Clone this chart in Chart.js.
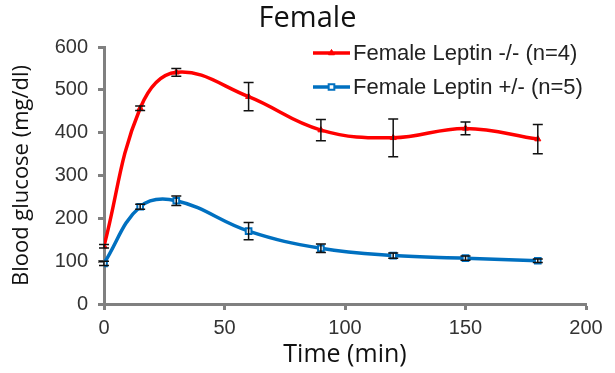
<!DOCTYPE html>
<html>
<head>
<meta charset="utf-8">
<script src="https://cdn.jsdelivr.net/npm/chart.js@4.4.1/dist/chart.umd.min.js"></script>
<style>
  html, body { margin: 0; padding: 0; background: #fff; }
  #wrap { width: 615px; height: 373px; }
</style>
</head>
<body>
<div id="wrap"><canvas id="grafico" width="615" height="373"></canvas></div>
<script>
// tiempos (min) y glucosa (mg/dl)
var tiempos = [0, 15, 30, 60, 90, 120, 150, 180];
var leptinKO = [135, 457, 541, 484, 406, 388, 410, 385];
var leptinKOErr = [4, 5, 9, 33, 25, 44, 15, 34];
var leptinHet = [95, 227, 241, 170, 130, 113, 107, 101];
var leptinHetErr = [5, 6, 11, 20, 10, 6, 5, 4];
var etiquetas = ["Female Leptin -/- (n=4)", "Female Leptin +/- (n=5)"];
var errores = [leptinKOErr, leptinHetErr];

var gris = "#808080";
var fuenteTexto = "'Open Sans', 'Noto Sans', sans-serif";
var fuenteNum = "'Liberation Sans', Arial, sans-serif";

function puntos(ys){
    return tiempos.map(function(t, i){ return {x: t, y: ys[i]}; });
}

// barras de error encima de las lineas
var pluginErrores = {
    id: "errores",
    afterDatasetsDraw: function(chart){
        var ctx = chart.ctx;
        var ys = chart.scales.y;
        ctx.save();
        ctx.strokeStyle = "#111";
        ctx.lineWidth = 1.5;
        chart.data.datasets.forEach(function(ds, d){
            var meta = chart.getDatasetMeta(d);
            meta.data.forEach(function(p, i){
                var v = ds.data[i].y, e = errores[d][i];
                var top = ys.getPixelForValue(v + e);
                var bot = ys.getPixelForValue(v - e);
                ctx.beginPath();
                ctx.moveTo(p.x, top); ctx.lineTo(p.x, bot);
                ctx.moveTo(p.x - 5, top); ctx.lineTo(p.x + 5, top);
                ctx.moveTo(p.x - 5, bot); ctx.lineTo(p.x + 5, bot);
                ctx.stroke();
            });
        });
        ctx.restore();
    }
};

// leyenda dentro del area del grafico
var pluginLeyenda = {
    id: "leyendaInterna",
    afterDraw: function(chart){
        var ctx = chart.ctx;
        var x0 = 313, x1 = 350, filas = [53, 87];
        ctx.save();
        chart.data.datasets.forEach(function(ds, d){
            var y = filas[d];
            ctx.strokeStyle = ds.borderColor;
            ctx.lineWidth = 3.5;
            ctx.beginPath(); ctx.moveTo(x0, y); ctx.lineTo(x1, y); ctx.stroke();
            var cx = (x0 + x1) / 2;
            ctx.fillStyle = ds.pointBackgroundColor;
            ctx.strokeStyle = ds.borderColor;
            ctx.lineWidth = ds.pointBorderWidth;
            Chart.helpers.drawPoint(ctx, {
                pointStyle: ds.pointStyle, radius: ds.pointRadius, borderWidth: ds.pointBorderWidth
            }, cx, y);
            ctx.fillStyle = "#222";
            ctx.font = "22px " + fuenteNum;
            ctx.textBaseline = "middle";
            ctx.textAlign = "left";
            ctx.fillText(ds.label, x1 + 3, y + 1);
        });
        ctx.restore();
    }
};

var config = {
    type: "line",
    data: {
        datasets: [{
            label: etiquetas[0],
            data: puntos(leptinKO),
            borderColor: "#ff0000",
            backgroundColor: "#ff0000",
            borderWidth: 3.5,
            tension: 0.4,
            pointStyle: "triangle",
            pointRadius: 3.5,
            pointBorderWidth: 1,
            pointBackgroundColor: "#ff0000",
            pointBorderColor: "#ff0000"
        }, {
            label: etiquetas[1],
            data: puntos(leptinHet),
            borderColor: "#0070c0",
            backgroundColor: "#ffffff",
            borderWidth: 3.5,
            tension: 0.4,
            pointStyle: "rect",
            pointRadius: 4,
            pointBorderWidth: 2,
            pointBackgroundColor: "#ffffff",
            pointBorderColor: "#0070c0"
        }]
    },
    options: {
        responsive: false,
        animation: false,
        layout: { padding: { top: 0, left: 0, right: 0, bottom: 0 } },
        plugins: {
            legend: { display: false },
            tooltip: { enabled: false },
            title: {
                display: true,
                text: "Female",
                color: "#111",
                font: { family: fuenteTexto, size: 29, weight: "normal" },
                padding: { top: 1, bottom: 11.2 }
            }
        },
        scales: {
            x: {
                type: "linear",
                min: 0, max: 200,
                ticks: { stepSize: 50, color: "#333", padding: 6, font: { family: fuenteNum, size: 20 } },
                grid: { drawOnChartArea: false, drawTicks: true, tickLength: 6, tickColor: gris, tickWidth: 3 },
                border: { color: gris, width: 3 },
                title: {
                    display: true, text: "Time (min)", color: "#111",
                    font: { family: fuenteTexto, size: 25 },
                    padding: { top: 0, bottom: 3 }
                },
                afterFit: function(s){ s.height = 69; s.paddingRight = 29; }
            },
            y: {
                min: 0, max: 600,
                ticks: { stepSize: 100, color: "#333", padding: 10, font: { family: fuenteNum, size: 20 } },
                grid: { drawOnChartArea: false, drawTicks: true, tickLength: 6, tickColor: gris, tickWidth: 3 },
                border: { color: gris, width: 3 },
                title: {
                    display: true, text: "Blood glucose (mg/dl)", color: "#111",
                    font: { family: fuenteTexto, size: 22 },
                    padding: { top: 9, bottom: 0 }
                },
                afterFit: function(s){ s.width = 104; }
            }
        }
    },
    plugins: [pluginErrores, pluginLeyenda]
};

var canvas = document.getElementById("grafico").getContext("2d");
window.grafico = new Chart(canvas, config);
</script>
</body>
</html>
